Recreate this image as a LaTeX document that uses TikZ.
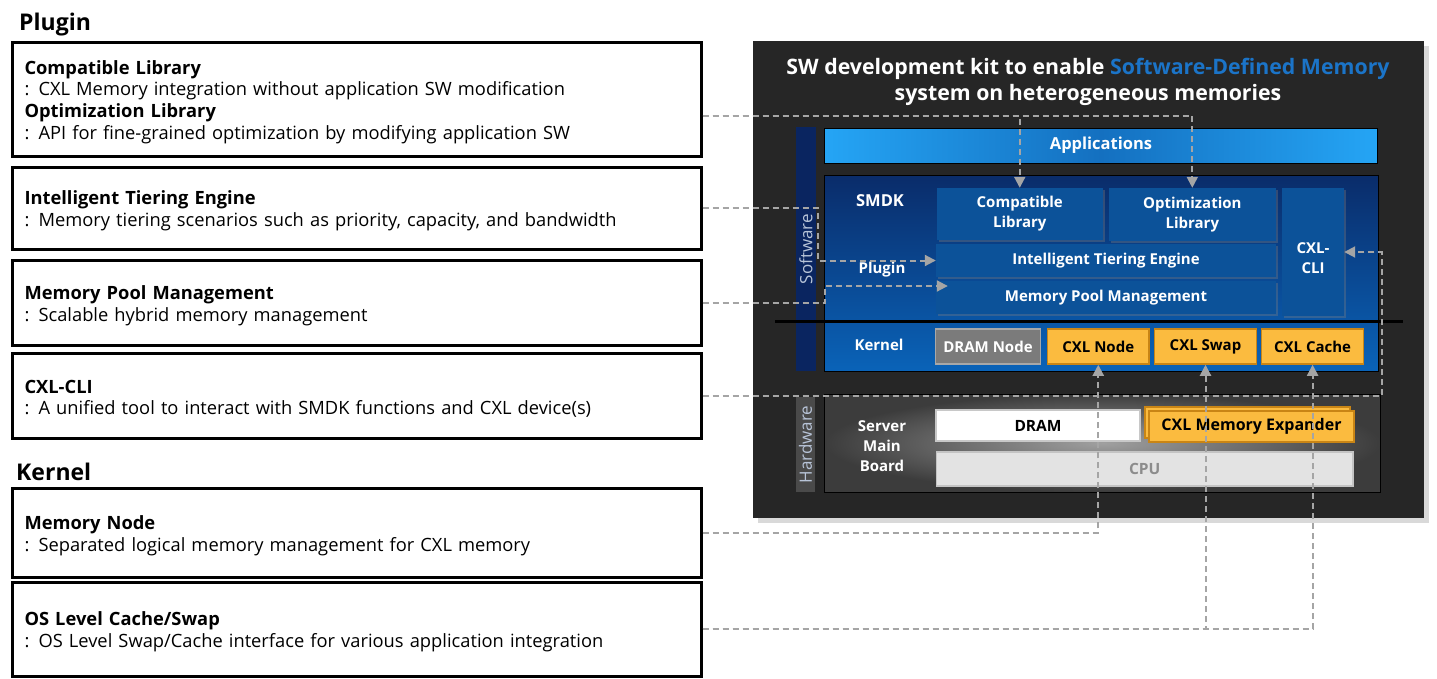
\documentclass[tikz,border=0pt]{standalone}
\usepackage{fontspec}
\setmainfont{Open Sans}
\usetikzlibrary{arrows.meta,shadows}
\definecolor{panel}{HTML}{262626}
\definecolor{sdm}{HTML}{1B74C8}
\definecolor{swbar}{HTML}{0A2560}
\definecolor{hwbar}{HTML}{4A4A4A}
\definecolor{sidetxt}{HTML}{B8C4D8}
\definecolor{appl}{HTML}{25A5F5}
\definecolor{appm}{HTML}{1470C0}
\definecolor{smdkt}{HTML}{0A2C6A}
\definecolor{smdkb}{HTML}{0A63B8}
\definecolor{inbox}{HTML}{0C5299}
\definecolor{cxlor}{HTML}{FBBB3F}
\definecolor{cxlrim}{HTML}{C98515}
\definecolor{dnodef}{HTML}{7B7B7B}
\definecolor{dnoder}{HTML}{A8A8A8}
\definecolor{boardi}{HTML}{A0A0A0}
\definecolor{boardo}{HTML}{3C3C3C}
\definecolor{dramr}{HTML}{C8C8C8}
\definecolor{cpuf}{HTML}{E3E3E3}
\definecolor{cpur}{HTML}{C4C4C4}
\definecolor{cputxt}{HTML}{8C8C8C}
\definecolor{connc}{HTML}{A5A5A5}

\begin{document}
\begin{tikzpicture}[x=1pt,y=-1pt,
  note/.style={draw,line width=3pt,minimum width=689pt,text width=664pt,inner xsep=12.5pt,align=left,font=\fontsize{18.3}{21.8}\selectfont,execute at begin node={\rule{0pt}{20pt}}},
  head/.style={anchor=west,inner sep=0pt,font=\fontsize{23}{26}\selectfont\bfseries},
  lbl/.style={text=white,align=center,inner sep=0pt,font=\fontsize{15}{20}\selectfont\bfseries},
  blk/.style={lbl,fill=inbox,drop shadow={opacity=.35,shadow xshift=2pt,shadow yshift=-2pt}},
  krn/.style={fill=cxlor,draw=cxlrim,line width=1.5pt,minimum width=102pt,minimum height=35pt,inner sep=0pt,font=\fontsize{15}{18}\selectfont\bfseries},
  side/.style={fill=#1,text=sidetxt,rotate=90,inner sep=0pt,font=\fontsize{17}{18}\selectfont},
  conn/.style={draw=connc,line width=2pt,dash pattern=on 6pt off 4pt,-{Triangle[length=11pt,width=11pt]}}]
\useasboundingbox (0,0) rectangle (1437,678);

\node[head] (hplugin) at (19,25) {Plugin};
\node[note,minimum height=114pt] (lib) at (356.5,99) {\textbf{Compatible Library}\\: CXL Memory integration without application SW modification\\\textbf{Optimization Library}\\: API for fine-grained optimization by modifying application SW};
\node[note,minimum height=82pt] (tier) at (356.5,208) {\textbf{Intelligent Tiering Engine}\\: Memory tiering scenarios such as priority, capacity, and bandwidth};
\node[note,minimum height=85pt] (pool) at (356.5,302.5) {\textbf{Memory Pool Management}\\: Scalable hybrid memory management};
\node[note,minimum height=85pt] (clinote) at (356.5,395.5) {\textbf{CXL-CLI}\\: A unified tool to interact with SMDK functions and CXL device(s)};
\node[head] (hkernel) at (16,472) {Kernel};
\node[note,minimum height=89pt] (memnode) at (356.5,532.5) {\textbf{Memory Node}\\: Separated logical memory management for CXL memory};
\node[note,minimum height=94pt] (oscache) at (356.5,629) {\textbf{OS Level Cache/Swap}\\: OS Level Swap/Cache interface for various application integration};

\node[fill=panel,minimum width=671pt,minimum height=477pt,inner sep=0pt,drop shadow={opacity=.3,shadow xshift=5pt,shadow yshift=-5pt}] (kit) at (1088.5,279.5) {};
\node[text=white,align=center,font=\fontsize{21.3}{26}\selectfont\bfseries] (title) at (1088,82) {SW development kit to enable \textcolor{sdm}{Software-Defined Memory}\\system on heterogeneous memories};

\node[side=swbar,minimum width=244pt,minimum height=20pt] (sw) at (806,249) {Software};
\node[draw=black,left color=appl,right color=appl,middle color=appm,minimum width=553pt,minimum height=35pt,lbl,font=\fontsize{16.5}{20}\selectfont\bfseries] (app) at (1101,145.5) {Applications};
\node[draw=black,line width=1pt,top color=smdkt,bottom color=smdkb,minimum width=554pt,minimum height=196pt] (smdk) at (1101,273) {};
\node[lbl,font=\fontsize{16.5}{20}\selectfont\bfseries] (lsmdk) at (880,201) {SMDK};
\node[lbl] (lplugin) at (882,270) {Plugin};
\node[lbl] (lkernel) at (879,345) {Kernel};
\node[blk,minimum width=166pt,minimum height=52pt] (comp) at (1019.75,214) {Compatible\\Library};
\node[blk,minimum width=166.5pt,minimum height=53pt] (opt) at (1192.3,214.5) {Optimization\\Library};
\node[blk,minimum width=62pt,minimum height=128pt] (cli) at (1313,252) {};
\node[lbl] (clitxt) at (1313,258) {CXL-\\CLI};
\node[blk,minimum width=340pt,minimum height=33pt] (ite) at (1106,260.5) {Intelligent Tiering Engine};
\node[blk,minimum width=340pt,minimum height=33pt] (mpm) at (1106,297.5) {Memory Pool Management};
\draw[line width=2.5pt] (775,321.7) -- (1403,321.7);
\node[krn,fill=dnodef,draw=dnoder,text=white,minimum width=105pt] (dnode) at (988,346.5) {DRAM Node};
\node[krn,minimum width=101.5pt] (cnode) at (1098.25,346.5) {CXL Node};
\node[krn] (cswap) at (1205.5,346.5) {CXL Swap};
\node[krn] (ccache) at (1312.6,346.5) {CXL Cache};

\node[side=hwbar,minimum width=95pt,minimum height=19pt] (hw) at (805.5,444.5) {Hardware};
\node[draw=black,line width=1pt,inner color=boardi,outer color=boardo,minimum width=556pt,minimum height=98pt] (board) at (1102.8,443) {};
\node[lbl] (lboard) at (882,446.5) {Server\\Main\\Board};
\node[fill=white,draw=dramr,line width=1.5pt,minimum width=204pt,minimum height=31pt,font=\fontsize{15.5}{18}\selectfont\bfseries] (dram) at (1038,425.5) {DRAM};
\node[krn,minimum width=205pt,minimum height=31pt] (cmeback) at (1247.5,422.5) {};
\node[krn,minimum width=205pt,minimum height=31pt,font=\fontsize{16}{18}\selectfont\bfseries] (cme) at (1251.5,426.5) {CXL Memory Expander};
\node[fill=cpuf,draw=cpur,line width=1.5pt,minimum width=416.5pt,minimum height=34pt,text=cputxt,font=\fontsize{15.5}{18}\selectfont\bfseries] (cpu) at (1144.75,469) {CPU};

\draw[conn] ([yshift=-17pt]lib.east) -| (comp.north);
\draw[conn] ([yshift=-17pt]lib.east) -| (opt.north);
\draw[conn] (tier.east) -| ([xshift=-118pt]ite.west) -- (ite.west);
\draw[conn] (pool.east) -| ([xshift=-111pt,yshift=11.5pt]mpm.west) -- ([xshift=12pt,yshift=11.5pt]mpm.west);
\draw[conn] (clinote.east) -| ([xshift=37.5pt]cli.east) -- (cli.east);
\draw[conn] (memnode.east) -| (cnode.south);
\draw[conn] (oscache.east) -| (cswap.south);
\draw[conn] (oscache.east) -| (ccache.south);
\end{tikzpicture}
\end{document}
